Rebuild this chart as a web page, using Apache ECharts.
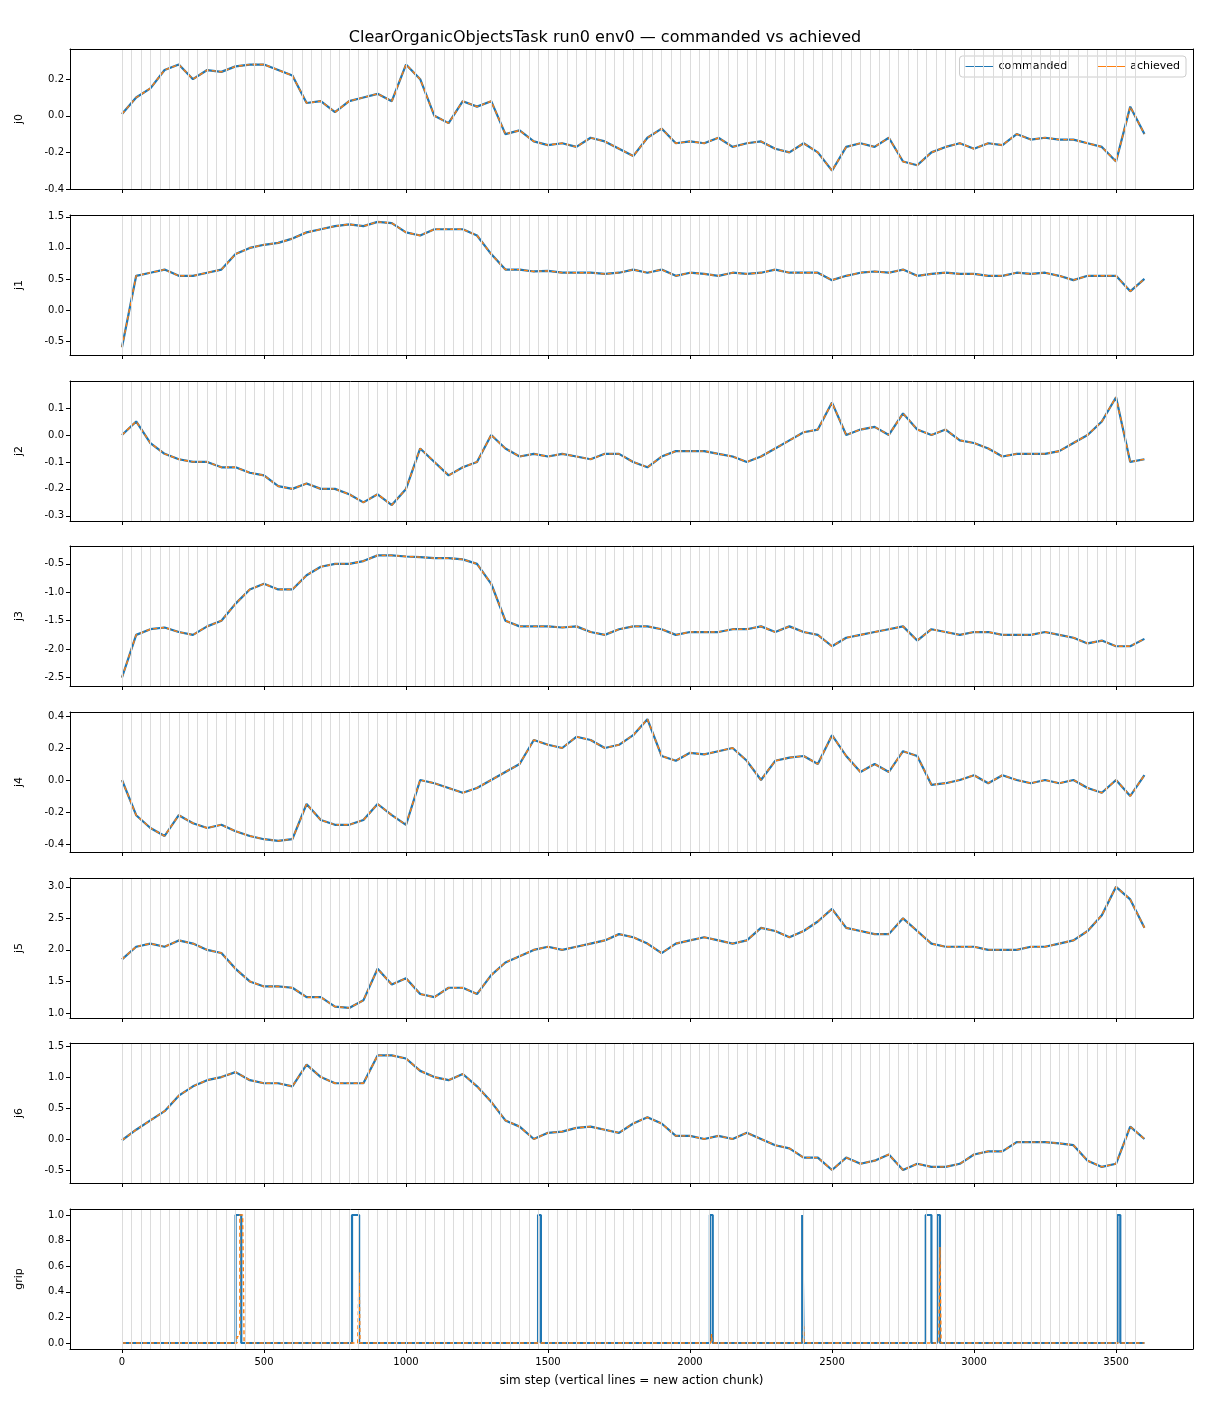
<!DOCTYPE html>
<html>
<head>
<meta charset="UTF-8">
<script src="https://cdn.jsdelivr.net/npm/echarts@6/dist/echarts.min.js"></script>
<style>body{margin:0}#main{width:1210px;height:1408px}</style>
</head>
<body>
<div id="main"></div>
<script>
// sampled every 50 sim steps, 0..3600
var steps = [];
for (var s = 0; s <= 3600; s += 50) steps.push(s);

var j0 = [0.01,0.1,0.15,0.25,0.28,0.2,0.25,0.24,0.27,0.28,0.28,0.25,0.22,0.07,0.08,0.02,0.08,0.1,0.12,0.08,0.28,0.2,0.0,-0.04,0.08,0.05,0.08,-0.1,-0.08,-0.14,-0.16,-0.15,-0.17,-0.12,-0.14,-0.18,-0.22,-0.12,-0.07,-0.15,-0.14,-0.15,-0.12,-0.17,-0.15,-0.14,-0.18,-0.2,-0.15,-0.2,-0.3,-0.17,-0.15,-0.17,-0.12,-0.25,-0.27,-0.2,-0.17,-0.15,-0.18,-0.15,-0.16,-0.1,-0.13,-0.12,-0.13,-0.13,-0.15,-0.17,-0.25,0.05,-0.1];
var j1 = [-0.6,0.55,0.6,0.65,0.55,0.55,0.6,0.65,0.9,1.0,1.05,1.08,1.15,1.25,1.3,1.35,1.38,1.35,1.42,1.4,1.25,1.2,1.3,1.3,1.3,1.2,0.9,0.65,0.65,0.62,0.63,0.6,0.6,0.6,0.58,0.6,0.65,0.6,0.65,0.55,0.6,0.58,0.55,0.6,0.58,0.6,0.65,0.6,0.6,0.6,0.48,0.55,0.6,0.62,0.6,0.65,0.55,0.58,0.6,0.58,0.58,0.55,0.55,0.6,0.58,0.6,0.55,0.48,0.55,0.55,0.55,0.3,0.5];
var j2 = [0.0,0.05,-0.03,-0.07,-0.09,-0.1,-0.1,-0.12,-0.12,-0.14,-0.15,-0.19,-0.2,-0.18,-0.2,-0.2,-0.22,-0.25,-0.22,-0.26,-0.2,-0.05,-0.1,-0.15,-0.12,-0.1,0.0,-0.05,-0.08,-0.07,-0.08,-0.07,-0.08,-0.09,-0.07,-0.07,-0.1,-0.12,-0.08,-0.06,-0.06,-0.06,-0.07,-0.08,-0.1,-0.08,-0.05,-0.02,0.01,0.02,0.12,0.0,0.02,0.03,0.0,0.08,0.02,0.0,0.02,-0.02,-0.03,-0.05,-0.08,-0.07,-0.07,-0.07,-0.06,-0.03,0.0,0.05,0.14,-0.1,-0.09];
var j3 = [-2.5,-1.75,-1.65,-1.62,-1.7,-1.75,-1.6,-1.5,-1.2,-0.95,-0.85,-0.95,-0.95,-0.7,-0.55,-0.5,-0.5,-0.45,-0.35,-0.35,-0.37,-0.38,-0.4,-0.4,-0.42,-0.5,-0.85,-1.5,-1.6,-1.6,-1.6,-1.62,-1.6,-1.7,-1.75,-1.65,-1.6,-1.6,-1.65,-1.75,-1.7,-1.7,-1.7,-1.65,-1.65,-1.6,-1.7,-1.6,-1.7,-1.75,-1.95,-1.8,-1.75,-1.7,-1.65,-1.6,-1.85,-1.65,-1.7,-1.75,-1.7,-1.7,-1.75,-1.75,-1.75,-1.7,-1.75,-1.8,-1.9,-1.85,-1.95,-1.95,-1.82];
var j4 = [0.0,-0.22,-0.3,-0.35,-0.22,-0.27,-0.3,-0.28,-0.32,-0.35,-0.37,-0.38,-0.37,-0.15,-0.25,-0.28,-0.28,-0.25,-0.15,-0.22,-0.28,0.0,-0.02,-0.05,-0.08,-0.05,0.0,0.05,0.1,0.25,0.22,0.2,0.27,0.25,0.2,0.22,0.28,0.38,0.15,0.12,0.17,0.16,0.18,0.2,0.12,0.0,0.12,0.14,0.15,0.1,0.28,0.15,0.05,0.1,0.05,0.18,0.15,-0.03,-0.02,0.0,0.03,-0.02,0.03,0.0,-0.02,0.0,-0.02,0.0,-0.05,-0.08,0.0,-0.1,0.03];
var j5 = [1.85,2.05,2.1,2.05,2.15,2.1,2.0,1.95,1.7,1.5,1.42,1.42,1.4,1.25,1.25,1.1,1.08,1.2,1.7,1.45,1.55,1.3,1.25,1.4,1.4,1.3,1.6,1.8,1.9,2.0,2.05,2.0,2.05,2.1,2.15,2.25,2.2,2.1,1.95,2.1,2.15,2.2,2.15,2.1,2.15,2.35,2.3,2.2,2.3,2.45,2.65,2.35,2.3,2.25,2.25,2.5,2.3,2.1,2.05,2.05,2.05,2.0,2.0,2.0,2.05,2.05,2.1,2.15,2.3,2.55,3.0,2.8,2.35];
var j6 = [-0.02,0.15,0.3,0.45,0.7,0.85,0.95,1.0,1.08,0.95,0.9,0.9,0.85,1.2,1.0,0.9,0.9,0.9,1.35,1.35,1.3,1.1,1.0,0.95,1.05,0.85,0.6,0.3,0.2,0.0,0.1,0.12,0.18,0.2,0.15,0.1,0.25,0.35,0.25,0.05,0.05,0.0,0.05,0.0,0.1,0.0,-0.1,-0.15,-0.3,-0.3,-0.5,-0.3,-0.4,-0.35,-0.25,-0.5,-0.4,-0.45,-0.45,-0.4,-0.25,-0.2,-0.2,-0.05,-0.05,-0.05,-0.07,-0.1,-0.35,-0.45,-0.4,0.2,0.0];

// gripper: step series, explicit change points
var gripCmdX = [0,400,420,810,835,1465,1475,2070,2080,2395,2400,2830,2850,2870,2880,3505,3515,3600];
var gripCmdY = [0,1,0,1,0,1,0,1,0,1,0,1,0,1,0,1,0,0];
var gripAchX = [0,405,415,425,430,830,835,838,2073,2076,2078,2398,2400,2402,2876,2880,2884,3600];
var gripAchY = [0,0.05,1,1,0,0,0.55,0,0,0.07,0,0,0.13,0,0,0.75,0,0];

var names = ['j0','j1','j2','j3','j4','j5','j6','grip'];
var joints = [j0,j1,j2,j3,j4,j5,j6];
var yMin = [-0.4,-0.726,-0.319,-2.65,-0.45,0.92,-0.71,-0.047];
var yMax = [0.365,1.53,0.2,-0.185,0.425,3.14,1.55,1.047];
var yTicks = [
  [-0.4,-0.2,0.0,0.2],
  [-0.5,0.0,0.5,1.0,1.5],
  [-0.3,-0.2,-0.1,0.0,0.1],
  [-2.5,-2.0,-1.5,-1.0,-0.5],
  [-0.4,-0.2,0.0,0.2,0.4],
  [1.0,1.5,2.0,2.5,3.0],
  [-0.5,0.0,0.5,1.0,1.5],
  [0.0,0.2,0.4,0.6,0.8,1.0]
];
var xTicks = [0,500,1000,1500,2000,2500,3000,3500];

var chunkLines = [];
for (var c = 0; c <= 3600; c += 3600 / 108) chunkLines.push({xAxis: c});

var tops = [49,215,381,546,712,878,1043,1209];
var blue = '#1f77b4', orange = '#ff7f0e';
var grid = [], xAxis = [], yAxis = [], series = [];

function fmt(v) { return v.toFixed(1); }

for (var i = 0; i < 8; i++) {
  grid.push({left: 70, right: 17, top: tops[i], height: 140});
  xAxis.push({
    type: 'value', gridIndex: i, min: -183, max: 3771, z: 5,
    splitLine: {show: false},
    axisLine: {onZero: false, lineStyle: {color: '#000'}},
    axisTick: {customValues: xTicks, length: 4, lineStyle: {color: '#000'}},
    axisLabel: {show: i === 7, customValues: xTicks, formatter: function (v) { return String(v); },
      color: '#000', fontSize: 10, margin: 8},
    name: i === 7 ? 'sim step (vertical lines = new action chunk)' : '',
    nameLocation: 'middle', nameGap: 26, nameTextStyle: {fontSize: 12, color: '#000'}
  });
  xAxis.push({
    type: 'value', gridIndex: i, min: -183, max: 3771, position: 'top', z: 5,
    axisLine: {show: true, onZero: false, lineStyle: {color: '#000'}},
    axisTick: {show: false}, axisLabel: {show: false}, splitLine: {show: false}
  });
  var ticks = yTicks[i];
  yAxis.push({
    type: 'value', gridIndex: i, min: yMin[i], max: yMax[i], z: 5,
    splitLine: {show: false},
    axisLine: {show: true, onZero: false, lineStyle: {color: '#000'}},
    axisTick: {show: true, customValues: ticks, length: 4, lineStyle: {color: '#000'}},
    axisLabel: {customValues: ticks, formatter: fmt, color: '#000', fontSize: 10, margin: 6},
    name: names[i], nameLocation: 'middle', nameGap: 45, nameRotate: 90,
    nameTextStyle: {fontSize: 11, color: '#000'}
  });
  yAxis.push({
    type: 'value', gridIndex: i, position: 'right', min: yMin[i], max: yMax[i], z: 5,
    axisLine: {show: true, onZero: false, lineStyle: {color: '#000'}},
    axisTick: {show: false}, axisLabel: {show: false}, splitLine: {show: false}
  });

  var cmd, ach;
  if (i < 7) {
    cmd = steps.map(function (x, k) { return [x, joints[i][k]]; });
    ach = cmd;
  } else {
    cmd = gripCmdX.map(function (x, k) { return [x, gripCmdY[k]]; });
    ach = gripAchX.map(function (x, k) { return [x, gripAchY[k]]; });
  }
  // chunk boundaries, behind everything
  series.push({
    type: 'line', xAxisIndex: 2 * i, yAxisIndex: 2 * i, data: [], z: 1, silent: true,
    markLine: {silent: true, symbol: 'none', label: {show: false}, animation: false,
      lineStyle: {color: '#dcdcdc', width: 1, type: 'solid'}, data: chunkLines}
  });
  series.push({
    name: 'commanded', type: 'line', xAxisIndex: 2 * i, yAxisIndex: 2 * i,
    data: cmd, showSymbol: false, step: i === 7 ? 'end' : false,
    lineStyle: {color: blue, width: 2.2}, itemStyle: {color: blue}, z: 3
  });
  series.push({
    name: 'achieved', type: 'line', xAxisIndex: 2 * i, yAxisIndex: 2 * i,
    data: ach, showSymbol: false, step: i === 7 ? 'end' : false,
    lineStyle: {color: orange, width: 1.4, type: [4, 3]}, itemStyle: {color: orange}, z: 4
  });
}

var chart = echarts.init(document.getElementById('main'));
chart.setOption({
  animation: false,
  backgroundColor: '#fff',
  textStyle: {fontFamily: 'DejaVu Sans'},
  title: {text: 'ClearOrganicObjectsTask run0 env0 \u2014 commanded vs achieved', left: 'center', top: 25,
    textStyle: {fontSize: 16, fontWeight: 'normal', color: '#000'}},
  legend: {data: ['commanded', 'achieved'], right: 24, top: 56, itemGap: 30, itemWidth: 28, itemHeight: 8,
    icon: 'path://M0,0H28V1H0Z',
    borderColor: '#ccc', borderWidth: 1, borderRadius: 3, padding: [5, 6],
    textStyle: {fontSize: 11, color: '#000'}},
  grid: grid, xAxis: xAxis, yAxis: yAxis, series: series
});
</script>
</body>
</html>
